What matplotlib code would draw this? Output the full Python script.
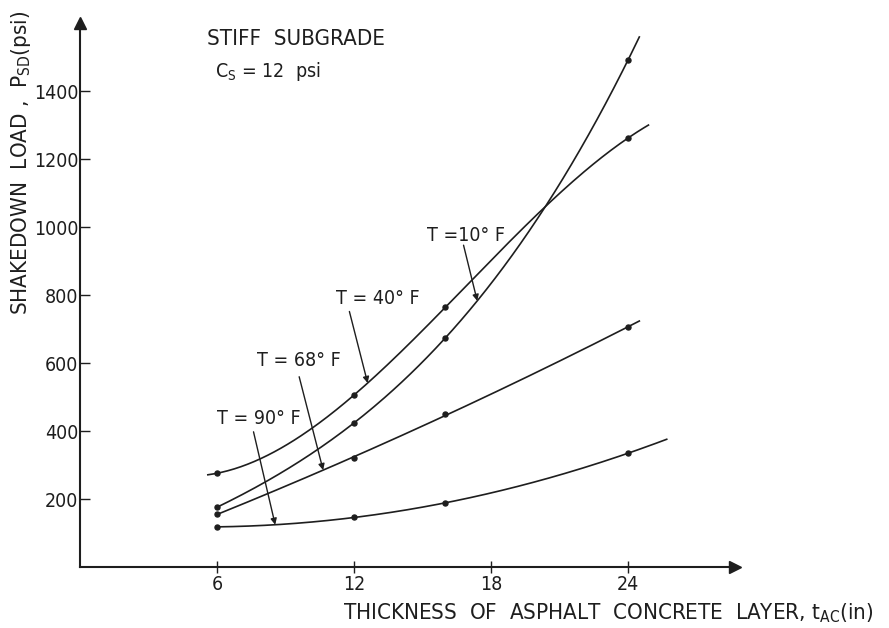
import numpy as np
import matplotlib
matplotlib.use("Agg")
import matplotlib.pyplot as plt

plt.rcParams['font.family'] = ['DejaVu Sans']
plt.rcParams['font.stretch'] = 'condensed'
plt.rcParams['mathtext.default'] = 'regular'

# asphalt concrete thickness (in) at which shakedown loads were computed
thickness = [6, 12, 16, 24]

# shakedown load P_SD (psi) for each temperature
load_10F = [176, 424, 674, 1491]
load_40F = [276, 506, 764, 1262]
load_68F = [156, 320, 450, 706]
load_90F = [118, 147, 188, 335]

# fitted curve extents and fit order for each series
series = [
    ("T =10° F", load_10F, 3, (6.0, 24.5)),
    ("T = 40° F", load_40F, 3, (5.6, 24.9)),
    ("T = 68° F", load_68F, 2, (6.0, 24.5)),
    ("T = 90° F", load_90F, 2, (6.0, 25.7)),
]

# label text position, arrow tail and arrow head x
label_pos = {
    "T =10° F": ((15.2, 976), (16.8, 947), 17.4),
    "T = 40° F": ((11.2, 791), (11.8, 752), 12.6),
    "T = 68° F": ((7.75, 609), (9.6, 560), 10.65),
    "T = 90° F": ((6.0, 438), (7.6, 398), 8.55),
}

ink = "#1e1e1e"
fs = 14
fs_big = 16
fig = plt.figure(figsize=(8.89, 6.28), dpi=100)
ax = fig.add_axes([0.090, 0.097, 0.737, 0.866])

for name, loads, deg, (x0, x1) in series:
    coef = np.polyfit(thickness, loads, deg)
    xs = np.linspace(x0, x1, 200)
    ax.plot(xs, np.polyval(coef, xs), color=ink, lw=1.2)
    ax.plot(thickness, loads, "o", color=ink, ms=3.6)

    (tx, ty), (ax0, ay0), hx = label_pos[name]
    ax.text(tx, ty, name, fontsize=fs, color=ink, ha="left", va="center")
    ax.annotate("", xy=(hx, np.polyval(coef, hx)), xytext=(ax0, ay0),
                arrowprops=dict(arrowstyle="-|>", color=ink, lw=1.0,
                                mutation_scale=9, shrinkA=0, shrinkB=0))

ax.text(5.55, 1553, "STIFF  SUBGRADE", fontsize=fs_big, color=ink,
        ha="left", va="center")
ax.text(5.9, 1459, "C$_S$ = 12  psi", fontsize=fs, color=ink,
        ha="left", va="center")

ax.set_xlim(0, 28.7)
ax.set_ylim(0, 1600)
ax.set_xticks([6, 12, 18, 24])
ax.set_yticks([200, 400, 600, 800, 1000, 1200, 1400])
ax.tick_params(axis="x", direction="inout", length=8, width=1.0,
               labelsize=fs, pad=2, colors=ink)
ax.tick_params(axis="y", direction="in", length=7, width=1.0,
               labelsize=fs, pad=1, colors=ink)

for side in ("top", "right"):
    ax.spines[side].set_visible(False)
for side in ("left", "bottom"):
    ax.spines[side].set_linewidth(1.5)
    ax.spines[side].set_color(ink)

# arrow heads at the axis ends
ax.plot(1, 0, ">", color=ink, ms=8, transform=ax.transAxes, clip_on=False)
ax.plot(0, 1, "^", color=ink, ms=8, transform=ax.transAxes, clip_on=False)

fig.text(21 / 889, 1 - 163 / 628, "SHAKEDOWN  LOAD ,  P$_{SD}$(psi)",
         rotation=90, fontsize=fs_big, color=ink, ha="center", va="center")
fig.text(343 / 889, 1 - 613 / 628,
         "THICKNESS  OF  ASPHALT  CONCRETE  LAYER, t$_{AC}$(in)",
         fontsize=fs_big, color=ink, ha="left", va="center")

fig.savefig("out.png", dpi=100, facecolor="white")
